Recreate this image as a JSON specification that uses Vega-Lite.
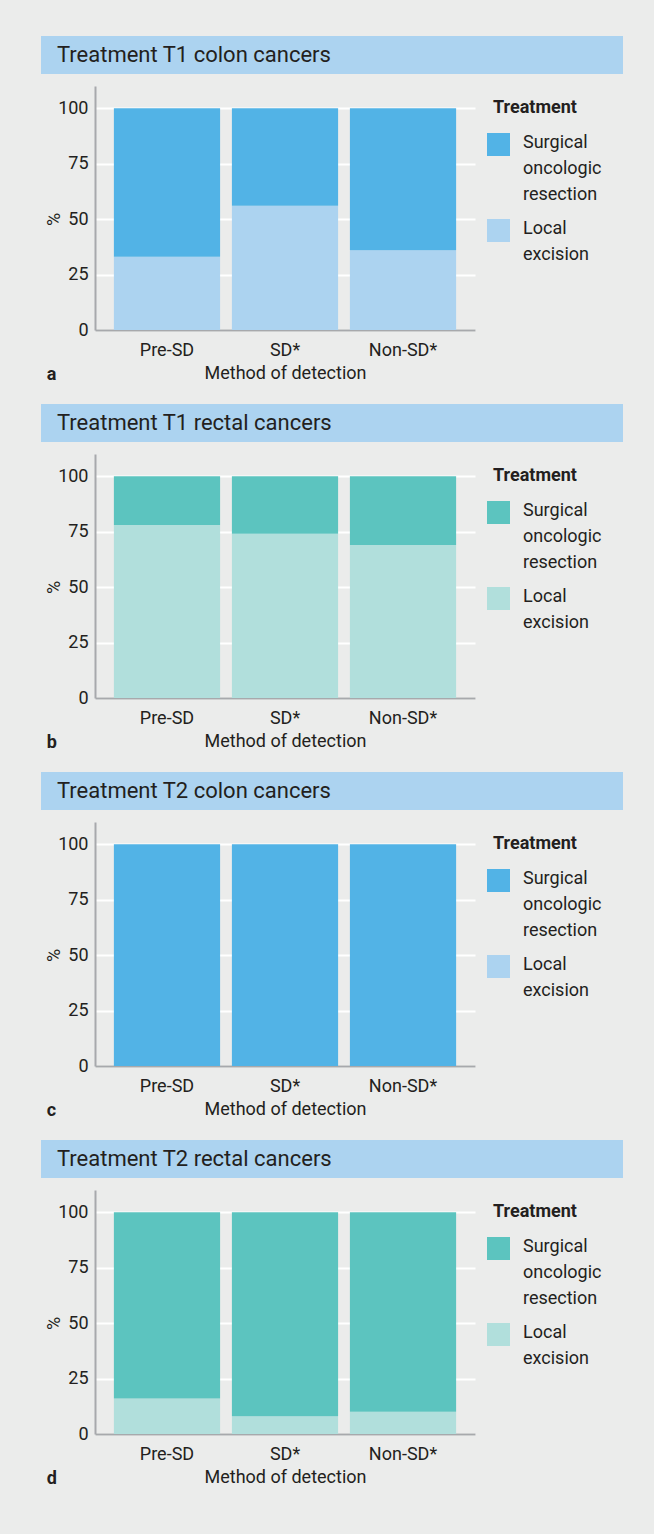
{
  "$schema": "https://vega.github.io/schema/vega-lite/v6.json",
  "padding": {"left": 41, "top": 36, "right": 40, "bottom": 60},
  "datasets": {
    "bars": [
      {"panel": "a", "method": "Pre-SD", "treatment": "Local excision", "pct": 33},
      {"panel": "a", "method": "Pre-SD", "treatment": "Surgical oncologic resection", "pct": 67},
      {"panel": "a", "method": "SD*", "treatment": "Local excision", "pct": 56},
      {"panel": "a", "method": "SD*", "treatment": "Surgical oncologic resection", "pct": 44},
      {"panel": "a", "method": "Non-SD*", "treatment": "Local excision", "pct": 36},
      {"panel": "a", "method": "Non-SD*", "treatment": "Surgical oncologic resection", "pct": 64},
      {"panel": "b", "method": "Pre-SD", "treatment": "Local excision", "pct": 78},
      {"panel": "b", "method": "Pre-SD", "treatment": "Surgical oncologic resection", "pct": 22},
      {"panel": "b", "method": "SD*", "treatment": "Local excision", "pct": 74},
      {"panel": "b", "method": "SD*", "treatment": "Surgical oncologic resection", "pct": 26},
      {"panel": "b", "method": "Non-SD*", "treatment": "Local excision", "pct": 69},
      {"panel": "b", "method": "Non-SD*", "treatment": "Surgical oncologic resection", "pct": 31},
      {"panel": "c", "method": "Pre-SD", "treatment": "Local excision", "pct": 0},
      {"panel": "c", "method": "Pre-SD", "treatment": "Surgical oncologic resection", "pct": 100},
      {"panel": "c", "method": "SD*", "treatment": "Local excision", "pct": 0},
      {"panel": "c", "method": "SD*", "treatment": "Surgical oncologic resection", "pct": 100},
      {"panel": "c", "method": "Non-SD*", "treatment": "Local excision", "pct": 0},
      {"panel": "c", "method": "Non-SD*", "treatment": "Surgical oncologic resection", "pct": 100},
      {"panel": "d", "method": "Pre-SD", "treatment": "Local excision", "pct": 16},
      {"panel": "d", "method": "Pre-SD", "treatment": "Surgical oncologic resection", "pct": 84},
      {"panel": "d", "method": "SD*", "treatment": "Local excision", "pct": 8},
      {"panel": "d", "method": "SD*", "treatment": "Surgical oncologic resection", "pct": 92},
      {"panel": "d", "method": "Non-SD*", "treatment": "Local excision", "pct": 10},
      {"panel": "d", "method": "Non-SD*", "treatment": "Surgical oncologic resection", "pct": 90}
    ]
  },
  "spacing": 20,
  "resolve": {"scale": {"color": "independent"}, "legend": {"color": "independent"}},
  "vconcat": [
    {
      "spacing": 12,
      "resolve": {"scale": {"color": "independent"}, "legend": {"color": "independent"}},
      "vconcat": [
        {
          "width": 528, "height": 38,
          "data": {"values": [{"title": "Treatment T1 colon cancers"}]},
          "layer": [
            {"mark": {"type": "rect", "color": "#acd3f0"}, "encoding": {
              "x": {"datum": -54, "type": "quantitative", "scale": {"domain": [0, 528], "nice": false, "zero": false}, "axis": null},
              "x2": {"datum": 528},
              "y": {"datum": 0, "type": "quantitative", "scale": {"domain": [0, 1], "nice": false}, "axis": null},
              "y2": {"datum": 1}}},
            {"mark": {"type": "text", "align": "left", "baseline": "middle", "fontSize": 22, "color": "#231f20"}, "encoding": {
              "x": {"datum": -38, "type": "quantitative"},
              "y": {"datum": 0.5, "type": "quantitative"},
              "text": {"field": "title"}}}
          ]
        },
        {
          "width": 380, "height": 244,
          "data": {"name": "bars"},
          "transform": [{"filter": "datum.panel == 'a'"}],
          "title": {"text": "a"},
          "mark": {"type": "bar"},
          "encoding": {
            "x": {"field": "method", "type": "nominal", "sort": ["Pre-SD", "SD*", "Non-SD*"], "scale": {"paddingInner": 0.1, "paddingOuter": 0.16}, "axis": {"title": "Method of detection"}},
            "y": {"field": "pct", "type": "quantitative", "stack": "zero", "scale": {"domain": [0, 110], "nice": false}, "axis": {"values": [0, 25, 50, 75, 100], "title": "%"}},
            "order": {"field": "treatment", "type": "nominal", "sort": "ascending"},
            "color": {"field": "treatment", "type": "nominal", "scale": {"domain": ["Surgical oncologic resection", "Local excision"], "range": ["#52b3e6", "#acd3f0"]},
              "legend": {"title": "Treatment", "labelExpr": "datum.label == 'Local excision' ? ['Local', 'excision'] : ['Surgical', 'oncologic', 'resection']",
                "encode": {"labels": {"update": {"lineHeight": {"value": 26}, "dy": {"value": -11}}}, "title": {"update": {"dx": {"value": 6}, "dy": {"value": 13}}}}}}
          }
        }
      ]
    },
    {
      "spacing": 12,
      "resolve": {"scale": {"color": "independent"}, "legend": {"color": "independent"}},
      "vconcat": [
        {
          "width": 528, "height": 38,
          "data": {"values": [{"title": "Treatment T1 rectal cancers"}]},
          "layer": [
            {"mark": {"type": "rect", "color": "#acd3f0"}, "encoding": {
              "x": {"datum": -54, "type": "quantitative", "scale": {"domain": [0, 528], "nice": false, "zero": false}, "axis": null},
              "x2": {"datum": 528},
              "y": {"datum": 0, "type": "quantitative", "scale": {"domain": [0, 1], "nice": false}, "axis": null},
              "y2": {"datum": 1}}},
            {"mark": {"type": "text", "align": "left", "baseline": "middle", "fontSize": 22, "color": "#231f20"}, "encoding": {
              "x": {"datum": -38, "type": "quantitative"},
              "y": {"datum": 0.5, "type": "quantitative"},
              "text": {"field": "title"}}}
          ]
        },
        {
          "width": 380, "height": 244,
          "data": {"name": "bars"},
          "transform": [{"filter": "datum.panel == 'b'"}],
          "title": {"text": "b"},
          "mark": {"type": "bar"},
          "encoding": {
            "x": {"field": "method", "type": "nominal", "sort": ["Pre-SD", "SD*", "Non-SD*"], "scale": {"paddingInner": 0.1, "paddingOuter": 0.16}, "axis": {"title": "Method of detection"}},
            "y": {"field": "pct", "type": "quantitative", "stack": "zero", "scale": {"domain": [0, 110], "nice": false}, "axis": {"values": [0, 25, 50, 75, 100], "title": "%"}},
            "order": {"field": "treatment", "type": "nominal", "sort": "ascending"},
            "color": {"field": "treatment", "type": "nominal", "scale": {"domain": ["Surgical oncologic resection", "Local excision"], "range": ["#5cc4bf", "#b1dfdc"]},
              "legend": {"title": "Treatment", "labelExpr": "datum.label == 'Local excision' ? ['Local', 'excision'] : ['Surgical', 'oncologic', 'resection']",
                "encode": {"labels": {"update": {"lineHeight": {"value": 26}, "dy": {"value": -11}}}, "title": {"update": {"dx": {"value": 6}, "dy": {"value": 13}}}}}}
          }
        }
      ]
    },
    {
      "spacing": 12,
      "resolve": {"scale": {"color": "independent"}, "legend": {"color": "independent"}},
      "vconcat": [
        {
          "width": 528, "height": 38,
          "data": {"values": [{"title": "Treatment T2 colon cancers"}]},
          "layer": [
            {"mark": {"type": "rect", "color": "#acd3f0"}, "encoding": {
              "x": {"datum": -54, "type": "quantitative", "scale": {"domain": [0, 528], "nice": false, "zero": false}, "axis": null},
              "x2": {"datum": 528},
              "y": {"datum": 0, "type": "quantitative", "scale": {"domain": [0, 1], "nice": false}, "axis": null},
              "y2": {"datum": 1}}},
            {"mark": {"type": "text", "align": "left", "baseline": "middle", "fontSize": 22, "color": "#231f20"}, "encoding": {
              "x": {"datum": -38, "type": "quantitative"},
              "y": {"datum": 0.5, "type": "quantitative"},
              "text": {"field": "title"}}}
          ]
        },
        {
          "width": 380, "height": 244,
          "data": {"name": "bars"},
          "transform": [{"filter": "datum.panel == 'c'"}],
          "title": {"text": "c"},
          "mark": {"type": "bar"},
          "encoding": {
            "x": {"field": "method", "type": "nominal", "sort": ["Pre-SD", "SD*", "Non-SD*"], "scale": {"paddingInner": 0.1, "paddingOuter": 0.16}, "axis": {"title": "Method of detection"}},
            "y": {"field": "pct", "type": "quantitative", "stack": "zero", "scale": {"domain": [0, 110], "nice": false}, "axis": {"values": [0, 25, 50, 75, 100], "title": "%"}},
            "order": {"field": "treatment", "type": "nominal", "sort": "ascending"},
            "color": {"field": "treatment", "type": "nominal", "scale": {"domain": ["Surgical oncologic resection", "Local excision"], "range": ["#52b3e6", "#acd3f0"]},
              "legend": {"title": "Treatment", "labelExpr": "datum.label == 'Local excision' ? ['Local', 'excision'] : ['Surgical', 'oncologic', 'resection']",
                "encode": {"labels": {"update": {"lineHeight": {"value": 26}, "dy": {"value": -11}}}, "title": {"update": {"dx": {"value": 6}, "dy": {"value": 13}}}}}}
          }
        }
      ]
    },
    {
      "spacing": 12,
      "resolve": {"scale": {"color": "independent"}, "legend": {"color": "independent"}},
      "vconcat": [
        {
          "width": 528, "height": 38,
          "data": {"values": [{"title": "Treatment T2 rectal cancers"}]},
          "layer": [
            {"mark": {"type": "rect", "color": "#acd3f0"}, "encoding": {
              "x": {"datum": -54, "type": "quantitative", "scale": {"domain": [0, 528], "nice": false, "zero": false}, "axis": null},
              "x2": {"datum": 528},
              "y": {"datum": 0, "type": "quantitative", "scale": {"domain": [0, 1], "nice": false}, "axis": null},
              "y2": {"datum": 1}}},
            {"mark": {"type": "text", "align": "left", "baseline": "middle", "fontSize": 22, "color": "#231f20"}, "encoding": {
              "x": {"datum": -38, "type": "quantitative"},
              "y": {"datum": 0.5, "type": "quantitative"},
              "text": {"field": "title"}}}
          ]
        },
        {
          "width": 380, "height": 244,
          "data": {"name": "bars"},
          "transform": [{"filter": "datum.panel == 'd'"}],
          "title": {"text": "d"},
          "mark": {"type": "bar"},
          "encoding": {
            "x": {"field": "method", "type": "nominal", "sort": ["Pre-SD", "SD*", "Non-SD*"], "scale": {"paddingInner": 0.1, "paddingOuter": 0.16}, "axis": {"title": "Method of detection"}},
            "y": {"field": "pct", "type": "quantitative", "stack": "zero", "scale": {"domain": [0, 110], "nice": false}, "axis": {"values": [0, 25, 50, 75, 100], "title": "%"}},
            "order": {"field": "treatment", "type": "nominal", "sort": "ascending"},
            "color": {"field": "treatment", "type": "nominal", "scale": {"domain": ["Surgical oncologic resection", "Local excision"], "range": ["#5cc4bf", "#b1dfdc"]},
              "legend": {"title": "Treatment", "labelExpr": "datum.label == 'Local excision' ? ['Local', 'excision'] : ['Surgical', 'oncologic', 'resection']",
                "encode": {"labels": {"update": {"lineHeight": {"value": 26}, "dy": {"value": -11}}}, "title": {"update": {"dx": {"value": 6}, "dy": {"value": 13}}}}}}
          }
        }
      ]
    }
  ],
  "config": {
    "background": "#ebeceb",
    "font": "Roboto",
    "view": {"stroke": null},
    "title": {"orient": "bottom", "anchor": "start", "dx": 1, "offset": -16, "fontSize": 18, "fontWeight": "bold", "color": "#231f20"},
    "axis": {"domainColor": "#a7a9ac", "domainWidth": 2, "ticks": false, "labelFontSize": 18, "labelColor": "#231f20", "titleFontSize": 18, "titleFontWeight": "normal", "titleColor": "#231f20", "gridColor": "#ffffff", "gridWidth": 2},
    "axisX": {"grid": false, "labelPadding": 11, "titlePadding": 5, "labelAngle": 0},
    "axisY": {"grid": true, "labelPadding": 7, "titlePadding": -6, "titleY": 133},
    "legend": {
      "orient": "right", "offset": 12, "padding": 0,
      "symbolType": "square", "symbolSize": 529, "symbolStrokeWidth": 0,
      "labelFontSize": 18, "labelColor": "#231f20", "labelOffset": 13, "labelBaseline": "top",
      "titleFontSize": 18, "titleFontWeight": "bold", "titleColor": "#231f20", "titlePadding": 29, "rowPadding": 15
    }
  }
}
